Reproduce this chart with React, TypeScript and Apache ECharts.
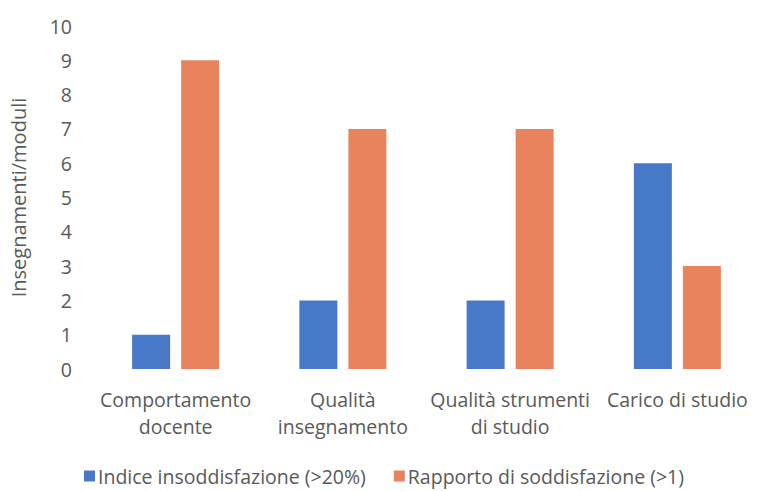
import React, { useEffect, useRef } from "react";
import * as echarts from "echarts";

const categories = ["Comportamento\ndocente", "Qualità\ninsegnamento", "Qualità strumenti\ndi studio", "Carico di studio"];
const insoddisfazione = [1, 2, 2, 6];
const soddisfazione = [9, 7, 7, 3];
const seriesNames = ["Indice insoddisfazione (>20%)", "Rapporto di soddisfazione (>1)"];
const yTitle = "Insegnamenti/moduli";

const FONT = "'Open Sans', 'Noto Sans', sans-serif";
const TXT = "#595959";

export default function App() {
  const ref = useRef<HTMLDivElement>(null);
  useEffect(() => {
    const chart = echarts.init(ref.current!, undefined, { renderer: "svg" });
    chart.setOption({
      animation: false,
      textStyle: { fontFamily: FONT },
      grid: { left: 87, top: 26, width: 692, bottom: 122 },
      legend: {
        top: 461,
        left: 79,
        itemWidth: 11,
        itemHeight: 11,
        itemGap: 28,
        icon: "rect",
        textStyle: { fontSize: 19.5, color: TXT, fontFamily: FONT, padding: [0, 0, 0, -2] },
        data: seriesNames,
      },
      xAxis: {
        type: "category",
        data: categories,
        axisLine: { show: false },
        axisTick: { show: false },
        axisLabel: { fontSize: 19.5, color: TXT, margin: 17, lineHeight: 27, fontFamily: FONT, interval: 0 },
      },
      yAxis: {
        type: "value",
        min: 0,
        max: 10,
        interval: 1,
        splitLine: { show: false },
        axisLine: { show: false },
        axisTick: { show: false },
        axisLabel: { fontSize: 19.5, color: TXT, margin: 20, fontFamily: FONT },
        name: yTitle,
        nameLocation: "middle",
        nameGap: 64,
        nameTextStyle: { fontSize: 20, color: TXT, fontFamily: FONT },
      },
      series: [
        {
          name: seriesNames[0],
          type: "bar",
          data: insoddisfazione,
          barWidth: 38,
          barGap: "29%",
          itemStyle: { color: "#4878c8" },
        },
        {
          name: seriesNames[1],
          type: "bar",
          data: soddisfazione,
          barWidth: 38,
          itemStyle: { color: "#e9835e" },
        },
      ],
    });
    return () => chart.dispose();
  }, []);
  return <div ref={ref} style={{ width: 761, height: 491, position: "absolute", left: 0, top: 0 }} />;
}
